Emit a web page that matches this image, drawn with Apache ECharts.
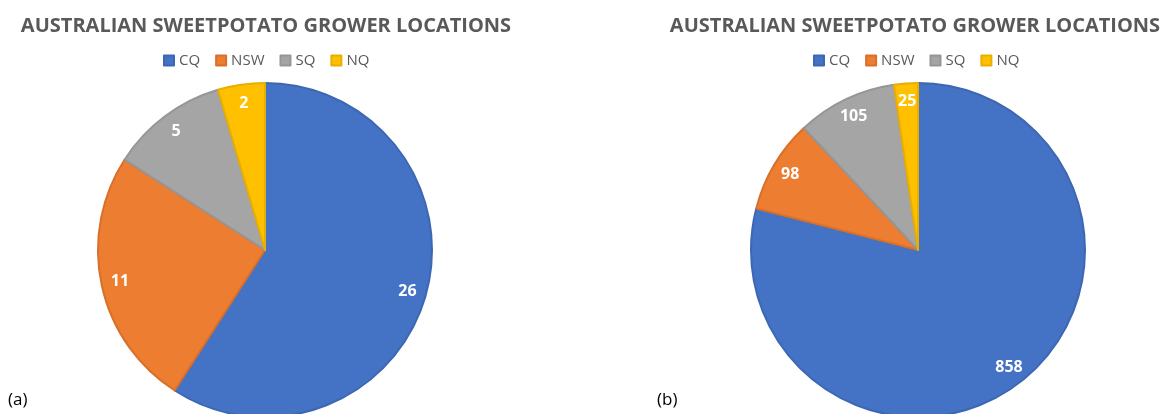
<!DOCTYPE html>
<html>
<head>
<meta charset="utf-8">
<title>Australian sweetpotato grower locations</title>
<script src="https://cdn.jsdelivr.net/npm/echarts@6/dist/echarts.min.js"></script>
<style>
  html, body { margin: 0; padding: 0; background: #fff; }
  #myChart { width: 1169px; height: 414px; }
</style>
</head>
<body>
<div id="myChart"></div>
<script>
// categories and values
const regions = ["CQ", "NSW", "SQ", "NQ"];
const growersA = [26, 11, 5, 2];     // (a)
const growersB = [858, 98, 105, 25]; // (b)
const titleText = "AUSTRALIAN SWEETPOTATO GROWER LOCATIONS";

const fills = ["#4472C4", "#ED7D31", "#A5A5A5", "#FFC000"];
const edges = ["#3D67B3", "#D9702A", "#969696", "#E8AE00"];

function sliceData(values) {
  return regions.map((name, i) => ({
    name: name,
    value: values[i],
    itemStyle: { color: fills[i], borderColor: edges[i] }
  }));
}

// the visible pie, no labels
function piece(values, cx) {
  return {
    type: "pie",
    center: [cx, 250],
    radius: [0, 167],
    startAngle: 90,
    clockwise: true,
    animation: false,
    label: { show: false },
    labelLine: { show: false },
    itemStyle: { borderWidth: 2 },
    emphasis: { disabled: true },
    data: sliceData(values)
  };
}

// transparent ring that only carries the value labels, so they sit near the rim
function labelRing(values, cx) {
  return {
    type: "pie",
    center: [cx, 250],
    radius: [124, 167],
    startAngle: 90,
    clockwise: true,
    animation: false,
    silent: true,
    legendHoverLink: false,
    itemStyle: { color: "rgba(0,0,0,0)", borderWidth: 0 },
    label: {
      show: true,
      position: "inside",
      formatter: "{c}",
      color: "#fff",
      fontFamily: "Open Sans",
      fontWeight: "bold",
      fontSize: 16
    },
    labelLine: { show: false },
    emphasis: { disabled: true },
    data: regions.map((name, i) => ({ name: name, value: values[i] }))
  };
}

function legendAt(x) {
  return {
    left: x,
    top: 48,
    icon: "rect",
    itemWidth: 10,
    itemHeight: 10,
    itemGap: 15,
    selectedMode: false,
    data: regions,
    textStyle: { color: "#595959", fontFamily: "Open Sans", fontSize: 15 }
  };
}

function titleAt(x) {
  return {
    text: titleText,
    left: x,
    top: 11,
    textAlign: "center",
    textStyle: { color: "#595959", fontFamily: "Open Sans", fontWeight: "bold", fontSize: 20 }
  };
}

let chart = echarts.init(document.getElementById("myChart"));
let option = {
  backgroundColor: "#fff",
  title: [titleAt(261), titleAt(910)],
  legend: [legendAt(158), legendAt(808)],
  series: [
    piece(growersA, 265),
    labelRing(growersA, 265),
    piece(growersB, 918),
    labelRing(growersB, 918)
  ],
  graphic: [
    { type: "text", left: 8, top: 392, style: { text: "(a)", fill: "#000", font: "17px 'Open Sans'" } },
    { type: "text", left: 657, top: 392, style: { text: "(b)", fill: "#000", font: "17px 'Open Sans'" } }
  ]
};
chart.setOption(option);
</script>
</body>
</html>
